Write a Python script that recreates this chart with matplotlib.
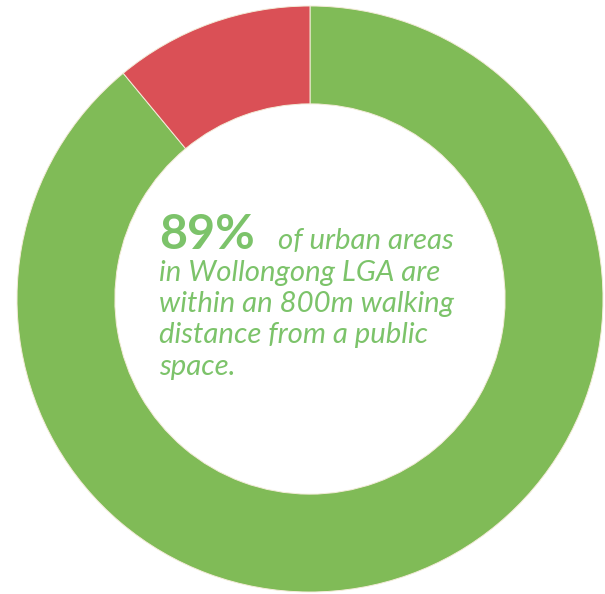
import matplotlib.pyplot as plt

shares = [89, 11]
names = ["within 800m", "not within 800m"]
colors = ["#80bb57", "#da5056"]

headline = "89%"
caption_first = "of urban areas"
caption_rest = [
    "in Wollongong LGA are",
    "within an 800m walking",
    "distance from a public",
    "space.",
]

W, H = 605, 594
fig = plt.figure(figsize=(W / 100, H / 100), dpi=100)
ax = fig.add_axes([0, 0, 1, 1])

# donut, outer radius 1 = 293 px, centre at pixel (310, 299)
scale = 293.0
cx, cy = 310.0, 299.0
ax.pie(shares, colors=colors, startangle=90, counterclock=False, radius=1,
       wedgeprops=dict(width=0.334, edgecolor="#f3ebd8", linewidth=0.7))
ax.set_xlim(-cx / scale, (W - cx) / scale)
ax.set_ylim(-(H - cy) / scale, cy / scale)
ax.set_aspect("auto")
ax.axis("off")

txt_col = "#7cc36a"

def px(x, y):
    return x / W, 1 - y / H

fig.text(*px(159, 249), headline, family="Lato", weight="bold", fontsize=34.8,
         color=txt_col, va="baseline", ha="left")
fig.text(*px(278, 249), caption_first, family="Lato", style="italic",
         fontsize=21.2, color=txt_col, va="baseline", ha="left")
baselines = [280.5, 312, 343, 374.5]
for line, yb in zip(caption_rest, baselines):
    fig.text(*px(159, yb), line, family="Lato", style="italic", fontsize=21.2,
             color=txt_col, va="baseline", ha="left")

fig.savefig("out.png", dpi=100)
